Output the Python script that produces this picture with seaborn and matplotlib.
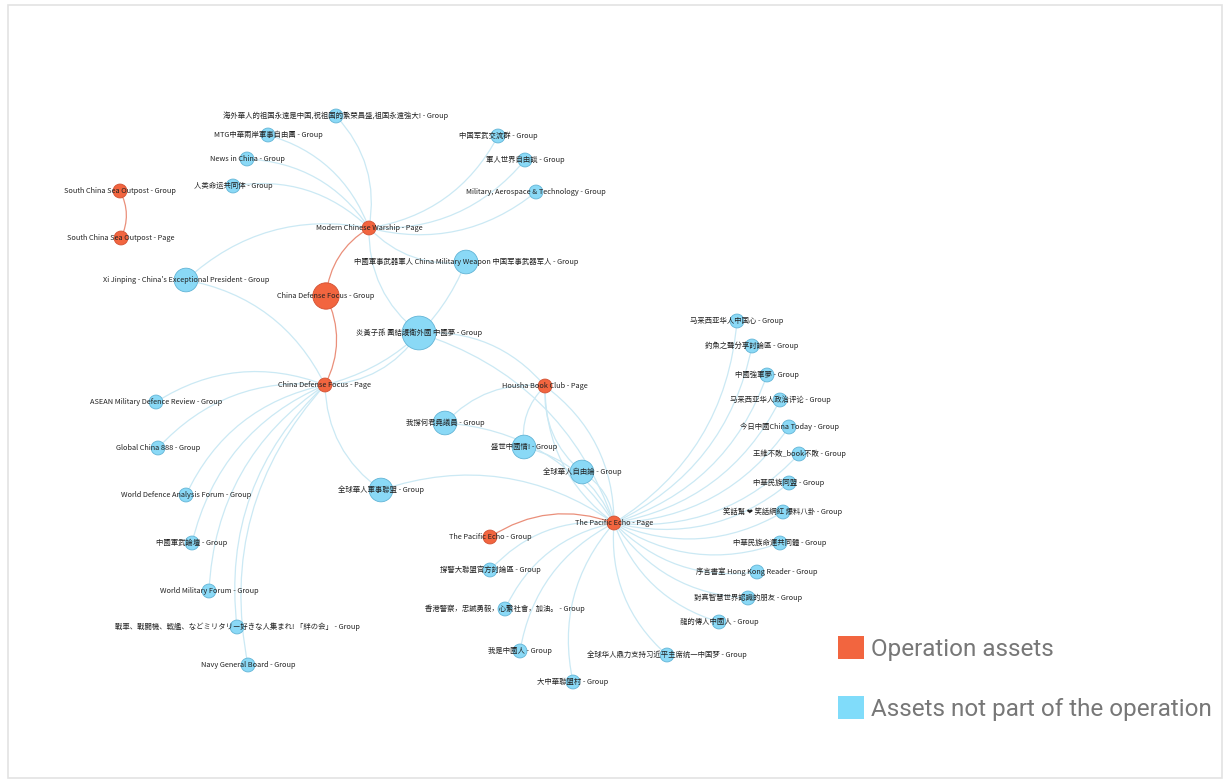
import matplotlib
matplotlib.use("Agg")
import matplotlib.pyplot as plt
from matplotlib.patches import FancyArrowPatch, Patch, Rectangle
import seaborn as sns
import pandas as pd

# nodes of the network (pixel layout of the original graph)
node_names = [
    "South China Sea Outpost - Group", "South China Sea Outpost - Page",
    "Modern Chinese Warship - Page", "China Defense Focus - Group",
    "China Defense Focus - Page", "Housha Book Club - Page",
    "The Pacific Echo - Page", "The Pacific Echo - Group",
    "海外華人的祖国永遠是中国,祝祖国的繁荣昌盛,祖国永遠強大! - Group",
    "MTG中華兩岸軍事自由團 - Group", "News in China - Group", "人类命运共同体 - Group",
    "中国军武交流群 - Group", "軍人世界自由談 - Group",
    "Military, Aerospace & Technology - Group",
    "中國軍事武器軍人 China Military Weapon 中国军事武器军人 - Group",
    "Xi Jinping - China's Exceptional President - Group",
    "炎黃子孫 團結護衛外國 中國夢 - Group",
    "ASEAN Military Defence Review - Group", "Global China 888 - Group",
    "World Defence Analysis Forum - Group", "中國軍武論壇 - Group",
    "World Military Forum - Group",
    "戰車、戰闘機、戦艦、などミリタリー好きな人集まれ! 「絆の会」 - Group",
    "Navy General Board - Group",
    "我撐何君堯議員 - Group", "盛世中國情! - Group", "全球華人自由論 - Group",
    "全球華人軍事聯盟 - Group", "撐警大聯盟官方討論區 - Group",
    "香港警察，忠誠勇毅，心繫社會，加油。 - Group", "我是中國人 - Group",
    "大中華聯盟村 - Group", "全球华人鼎力支持习近平主席统一中国梦 - Group",
    "马来西亚华人中国心 - Group", "釣魚之聲分享討論區 - Group", "中國強軍夢 - Group",
    "马来西亚华人政治评论 - Group", "今日中國China Today - Group",
    "王維不敗_book不敗 - Group", "中華民族同盟 - Group",
    "笑話幫 ❤ 笑話網紅 爆料八卦 - Group", "中華民族命運共同體 - Group",
    "序言書室 Hong Kong Reader - Group", "對真智慧世界認識的朋友 - Group",
    "龍的傳人中國人 - Group",
]
node_x = [120, 121, 369, 326, 325, 545, 614, 490,
          336, 268, 247, 233, 498, 525, 536, 466, 186, 419,
          156, 158, 186, 192, 209, 237, 248,
          445, 524, 582, 381, 490, 505, 520, 573, 667,
          737, 752, 767, 780, 789, 799, 789, 783, 780, 757, 748, 719]
node_y = [191, 238, 228, 296, 385, 386, 523, 537,
          116, 135, 159, 186, 136, 160, 192, 262, 280, 333,
          402, 448, 495, 543, 591, 627, 665,
          423, 447, 472, 490, 570, 609, 651, 682, 655,
          321, 346, 375, 400, 427, 454, 483, 512, 543, 572, 598, 622]
operation = ["Operation assets"] * 8
others = ["Assets not part of the operation"] * (len(node_names) - 8)
node_kind = operation + others
node_weight = [1, 1, 1, 3, 1, 1, 1, 1,
               1, 1, 1, 1, 1, 1, 1, 2, 2, 4,
               1, 1, 1, 1, 1, 1, 1,
               2, 2, 2, 2, 1, 1, 1, 1, 1,
               1, 1, 1, 1, 1, 1, 1, 1, 1, 1, 1, 1]

# edges (source page -> group)
edge_src = [
    "South China Sea Outpost - Page",
    "Modern Chinese Warship - Page", "China Defense Focus - Page",
    "The Pacific Echo - Page",
] + ["Modern Chinese Warship - Page"] * 10 + ["China Defense Focus - Page"] * 11 \
  + ["Housha Book Club - Page"] * 5 + ["The Pacific Echo - Page"] * 23
edge_dst = [
    "South China Sea Outpost - Group",
    "China Defense Focus - Group", "China Defense Focus - Group",
    "The Pacific Echo - Group",
    # Modern Chinese Warship
    node_names[8], node_names[9], node_names[10], node_names[11], node_names[12],
    node_names[13], node_names[14], node_names[15], node_names[16], node_names[17],
    # China Defense Focus page
    node_names[16], node_names[17], node_names[15], node_names[18], node_names[19],
    node_names[20], node_names[21], node_names[22], node_names[23], node_names[24],
    node_names[28],
    # Housha Book Club
    node_names[17], node_names[25], node_names[26], node_names[27], "The Pacific Echo - Page",
    # Pacific Echo page
    node_names[17], node_names[25], node_names[26], node_names[27], node_names[28],
    node_names[29], node_names[30], node_names[31], node_names[32], node_names[33],
    node_names[34], node_names[35], node_names[36], node_names[37], node_names[38],
    node_names[39], node_names[40], node_names[41], node_names[42], node_names[43],
    node_names[44], node_names[45], "Housha Book Club - Page",
]

RED = "#f2653f"
BLUE = "#8ad9f6"

nodes = pd.DataFrame({"name": node_names, "x": node_x, "y": node_y,
                      "kind": node_kind, "weight": node_weight})

sns.set_style("white")
plt.rcParams["font.family"] = ["Noto Sans CJK SC", "DejaVu Sans"]

fig = plt.figure(figsize=(12.25, 7.81), dpi=100)
ax = fig.add_axes([0, 0, 1, 1])

# outer frame
ax.add_patch(Rectangle((8, 5), 1214, 773, fill=False, edgecolor="#e3e3e3", lw=1.2))

pos = {n: (x, y) for n, x, y in zip(node_names, node_x, node_y)}
kind = dict(zip(node_names, node_kind))
for s, d in zip(edge_src, edge_dst):
    both_red = kind[s] == "Operation assets" and kind[d] == "Operation assets" \
        and {s, d} != {"Housha Book Club - Page", "The Pacific Echo - Page"}
    col = "#ea8f7a" if both_red else "#cbe9f4"
    e = FancyArrowPatch(pos[s], pos[d], connectionstyle="arc3,rad=0.25",
                        arrowstyle="-", color=col, lw=0.9, shrinkA=0, shrinkB=0,
                        zorder=1)
    ax.add_patch(e)

sns.scatterplot(data=nodes, x="x", y="y", hue="kind", size="weight",
                palette={"Operation assets": RED,
                         "Assets not part of the operation": BLUE},
                sizes={1: 100, 2: 290, 3: 360, 4: 590},
                edgecolor="#5aa8c8", linewidth=0.6, legend=False, ax=ax, zorder=2)
# red nodes get a reddish outline
ax.collections[-1].set_edgecolors([("#d24f30" if k == "Operation assets" else "#62b4d6")
                                   for k in node_kind])
ax.set_xlim(0, 1225)
ax.set_ylim(781, 0)
ax.axis("off")

for n, x, y in zip(node_names, node_x, node_y):
    ax.text(x, y, n, fontsize=5.3, color="#222222", ha="center", va="center", zorder=3)

handles = [Patch(facecolor=RED, edgecolor="none", label="Operation assets"),
           Patch(facecolor="#80dcfa", edgecolor="none",
                 label="Assets not part of the operation")]
fig.legend(handles=handles, loc="upper left", bbox_to_anchor=(0.684, 0.186),
           frameon=False, handlelength=1.08, handleheight=1.08,
           handletextpad=0.3, labelspacing=1.45, borderpad=0, borderaxespad=0,
           labelcolor="#777777",
           prop={"family": ["Roboto", "DejaVu Sans"], "size": 17.5})

fig.savefig("out.png", dpi=100)
